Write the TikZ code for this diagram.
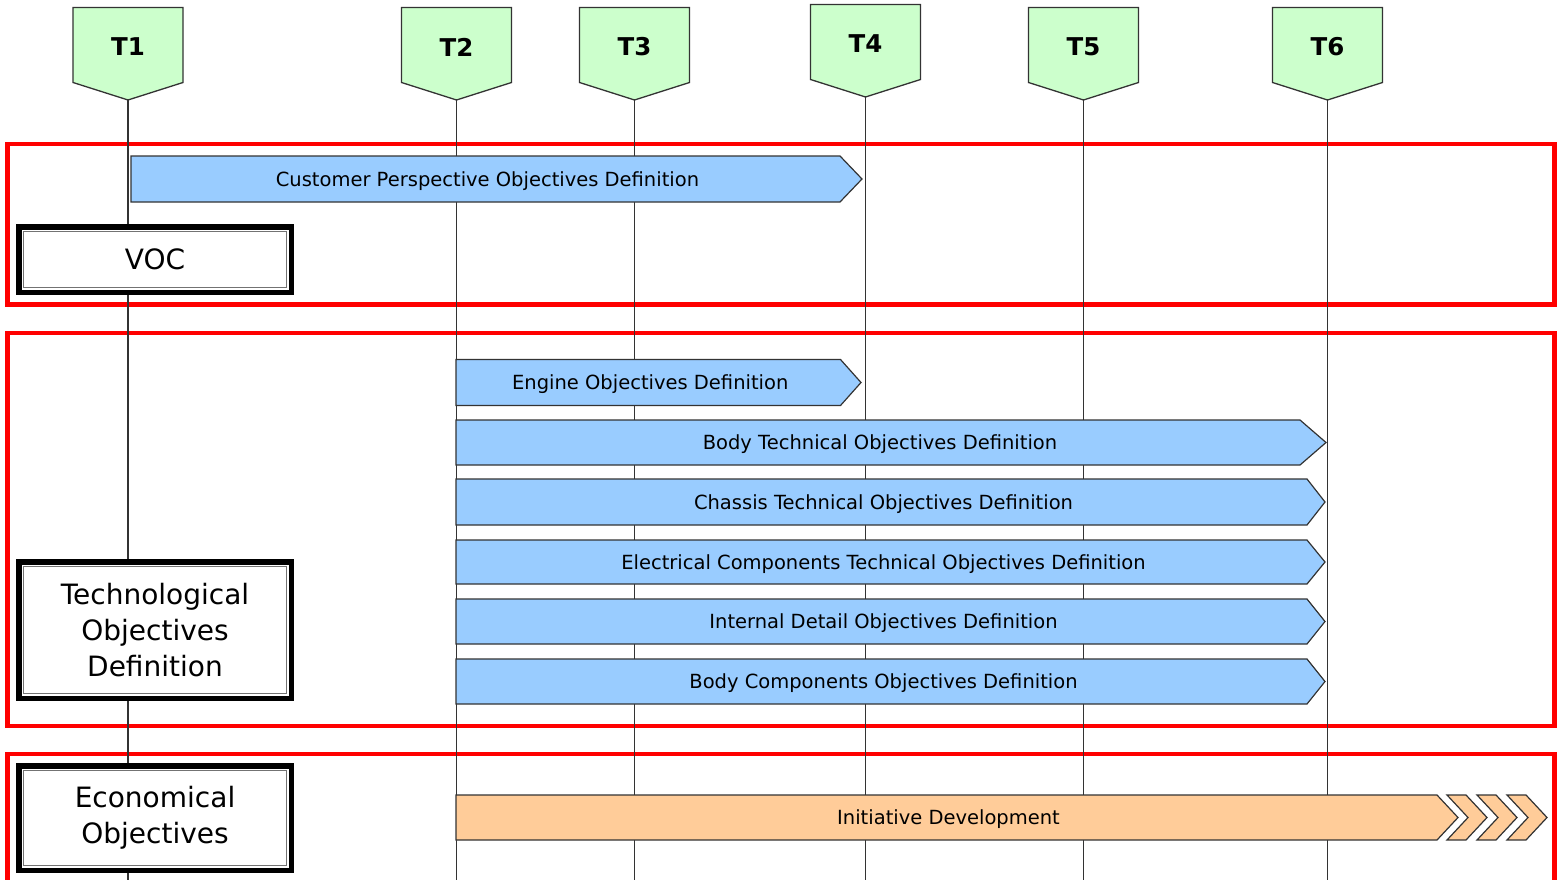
\documentclass[tikz,border=0pt]{standalone}
\usepackage{fontspec}
\setmainfont{DejaVu Sans}
\definecolor{mkgreen}{HTML}{CCFFCC}
\definecolor{barblue}{HTML}{99CCFF}
\definecolor{barorange}{HTML}{FFCC99}
\definecolor{edge}{HTML}{333333}
\tikzset{
  redframe/.style={draw=red, line width=4.5pt},
  tline/.style={draw=edge, line width=1.4pt},
  mkshape/.style={fill=mkgreen, draw=edge, line width=1.3pt},
  mklabel/.style={font=\bfseries\fontsize{24.5}{27}\selectfont, inner sep=0},
  barshape/.style={draw=edge, line width=1.2pt},
  tasklabel/.style={font=\fontsize{19.5}{22}\selectfont, anchor=base, inner sep=0},
  bigbox/.style={draw=black, fill=white, line width=5.5pt, outer sep=0pt, inner sep=0pt,
    align=center, font=\fontsize{28}{36}\selectfont, minimum width=272.5pt},
  innerline/.style={draw=black!55, line width=1pt}
}
\newcommand\mymarker[4]{% name, x, top, label
  \filldraw[mkshape] (#2-55,#3) -- (#2+55,#3) -- (#2+55,#3+75) -- (#2,#3+92.5) -- (#2-55,#3+75) -- cycle;
  \node[mklabel] (#1) at (#2,#3+39.5) {#4};
  \coordinate (#1tip) at (#2,#3+92.5);
  \coordinate (#1end) at (#2,900);
}
\newcommand\mytask[8]{% name, xl, corner, tip, yc, half, fill, text
  \filldraw[barshape, fill=#7] (#2,#5-#6) -- (#3,#5-#6) -- (#4,#5) -- (#3,#5+#6) -- (#2,#5+#6) -- cycle;
  \node[tasklabel] (#1) at ({(#2+#3)/2+2},#5+7) {#8};
}
\newcommand\mychevron[1]{% left x
  \filldraw[barshape, fill=barorange] (#1,795) -- (#1+19,795) -- (#1+40,817.5) -- (#1+19,840) -- (#1,840) -- (#1+21,817.5) -- cycle;
}
\begin{document}
\begin{tikzpicture}[x=1pt,y=-1pt]
\useasboundingbox (0,0) rectangle (1557,880);
% red frames
\draw[redframe] (7.3,144) rectangle (1554.5,304.5);
\draw[redframe] (7.3,333) rectangle (1554.5,726);
\draw[redframe] (7.3,754) rectangle (1554.5,910);
% markers
\mymarker{T1}{128}{7.5}{T1}
\mymarker{T2}{456.5}{7.5}{T2}
\mymarker{T3}{634.5}{7.5}{T3}
\mymarker{T4}{865.5}{4.5}{T4}
\mymarker{T5}{1083.5}{7.5}{T5}
\mymarker{T6}{1327.5}{7.5}{T6}
% time lines
\draw[tline] (T1tip) -- (T1end);
\draw[tline] (T2tip) -- (T2end);
\draw[tline] (T3tip) -- (T3end);
\draw[tline] (T4tip) -- (T4end);
\draw[tline] (T5tip) -- (T5end);
\draw[tline] (T6tip) -- (T6end);
% task bars
\mytask{cust}{131}{840}{862}{179}{23}{barblue}{Customer Perspective Objectives Definition}
\mytask{eng}{456}{840.5}{861}{382.5}{23}{barblue}{Engine Objectives Definition}
\mytask{bodyt}{456}{1300}{1326}{442.5}{22.5}{barblue}{Body Technical Objectives Definition}
\mytask{chas}{456}{1307}{1325}{502}{23}{barblue}{Chassis Technical Objectives Definition}
\mytask{elec}{456}{1307}{1325}{562}{22}{barblue}{Electrical Components Technical Objectives Definition}
\mytask{intd}{456}{1307}{1325}{621.5}{22.5}{barblue}{Internal Detail Objectives Definition}
\mytask{bodyc}{456}{1307}{1325}{681.5}{22.5}{barblue}{Body Components Objectives Definition}
\mytask{init}{456}{1437}{1458}{817.5}{22.5}{barorange}{Initiative Development}
\mychevron{1447}
\mychevron{1477}
\mychevron{1507}
% category boxes
\node[bigbox, minimum height=65.5pt] (voc) at (155,259.5) {VOC};
\draw[innerline] ([shift={(4.6,4.6)}]voc.north west) rectangle ([shift={(-4.6,-4.6)}]voc.south east);
\node[bigbox, minimum height=136.5pt] (tech) at (155,630) {Technological\\Objectives\\Definition};
\draw[innerline] ([shift={(4.6,4.6)}]tech.north west) rectangle ([shift={(-4.6,-4.6)}]tech.south east);
\node[bigbox, minimum height=104.5pt] (econ) at (155,818) {Economical\\Objectives};
\draw[innerline] ([shift={(4.6,4.6)}]econ.north west) rectangle ([shift={(-4.6,-4.6)}]econ.south east);
\end{tikzpicture}
\end{document}
